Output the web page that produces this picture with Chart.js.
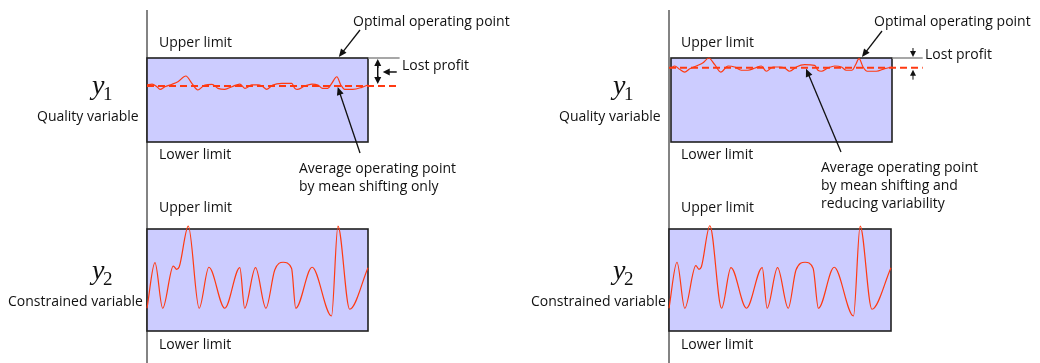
<!DOCTYPE html>
<html>
<head>
<meta charset="UTF-8" />
<title>Mean shifting and variability reduction</title>
<script src="https://cdn.jsdelivr.net/npm/chart.js"></script>
<style>
  body { margin: 0; padding: 0; background: #fff; }
  #wrap { position: relative; width: 1040px; height: 363px; }
  canvas { position: absolute; top: 0; }
</style>
</head>
<body>
<div id="wrap">
  <canvas id="leftTop" width="520" height="363" style="left:0"></canvas>
  <canvas id="leftBottom" width="520" height="363" style="left:0"></canvas>
  <canvas id="rightTop" width="520" height="363" style="left:520px"></canvas>
  <canvas id="rightBottom" width="520" height="363" style="left:520px"></canvas>
</div>
<script>
// both variables in percent of the band between the limits
const lowerLimit = 0;
const upperLimit = 100;

// y1 quality variable, mean shifting only
const qualityTimeA = [0, 2.3, 4.5, 5.9, 8.1, 11.3, 14.0, 17.6, 20.3, 23.0, 26.2, 29.4, 32.1, 35.2, 38.4, 42.0, 44.3, 47.4, 50.2, 52.0, 54.2, 56.9, 61.0, 65.5, 66.9, 68.2, 71.4, 74.6, 77.3, 79.5, 81.8, 83.6, 85.9, 87.7, 89.5, 93.1, 97.2, 100];
const qualityShiftOnly = [67.9, 69.0, 65.8, 62.7, 65.8, 68.7, 71.8, 78.6, 69.9, 61.9, 67.9, 68.7, 63.9, 62.7, 65.8, 69.0, 63.9, 67.9, 67.9, 66.7, 62.7, 67.9, 69.9, 69.9, 63.9, 62.7, 66.7, 69.0, 67.9, 63.9, 63.9, 69.9, 77.7, 67.9, 62.7, 62.7, 65.1, 67.9];
const meanShiftOnly = 66.7;

// y1 quality variable, mean shifting and reduced variability
const qualityTimeB = [0, 1.7, 3.9, 6.2, 8.5, 11.4, 14.5, 17.1, 19.8, 22.5, 25.8, 28.8, 31.8, 34.8, 38.1, 40.9, 43.1, 46.2, 49.2, 51.4, 53.7, 56.7, 60.5, 65.0, 66.5, 68.0, 71.0, 74.1, 77.1, 79.3, 81.9, 83.4, 85.1, 86.9, 88.8, 92.9, 96.7, 100];
const qualityReduced = [88.1, 90.5, 86.5, 83.3, 87.3, 90.5, 94.4, 100, 92.0, 83.3, 90.5, 89.3, 85.4, 85.4, 88.1, 90.5, 84.2, 89.3, 89.3, 88.1, 84.2, 89.3, 92.0, 91.3, 85.4, 84.2, 88.1, 90.5, 89.3, 85.4, 85.4, 91.3, 99.2, 89.3, 84.2, 84.2, 87.3, 89.3];
const meanReduced = 88.5;

// y2 constrained variable
const constrainedTimeA = [0, 3.6, 7.1, 11.9, 13.4, 14.6, 18.7, 23.6, 28.0, 35.2, 42.0, 44.2, 49.1, 53.8, 57.8, 61.6, 65.4, 67.3, 74.7, 83.5, 86.4, 91.7, 100];
const constrainedA = [22.3, 67.0, 22.3, 63.7, 60.5, 63.0, 102.9, 22.3, 62.5, 22.3, 62.1, 22.3, 62.1, 22.3, 59.8, 67.4, 61.5, 22.3, 62.5, 14.7, 102.9, 21.3, 62.1];
const constrainedTimeB = [0, 3.6, 7.1, 12.1, 13.5, 14.6, 18.4, 23.7, 27.9, 34.9, 42.0, 44.2, 48.9, 53.7, 57.2, 61.3, 64.9, 67.3, 74.4, 83.1, 86.1, 91.4, 100];
const constrainedB = [22.3, 67.4, 22.3, 64.0, 60.5, 63.0, 103.2, 22.3, 62.1, 22.3, 62.1, 22.3, 62.1, 22.3, 59.8, 67.4, 61.5, 22.3, 62.5, 14.7, 102.9, 21.3, 62.1];

// texts
const limitLabels = ['Upper limit', 'Lower limit'];
const variableNames = ['Quality variable', 'Constrained variable'];
const optimalLabel = 'Optimal operating point';
const lostLabel = 'Lost profit';
const averageLabelsA = ['Average operating point', 'by mean shifting only'];
const averageLabelsB = ['Average operating point', 'by mean shifting and', 'reducing variability'];

const FONT = '14px "Open Sans", "Liberation Sans", sans-serif';
const RED = '#ff3a12';

function pts(xs, ys) {
  return xs.map((x, i) => ({ x: x, y: ys[i] }));
}

function arrow(ctx, x1, y1, x2, y2, head, half) {
  const a = Math.atan2(y2 - y1, x2 - x1);
  const c = Math.cos(a), s = Math.sin(a);
  ctx.beginPath();
  ctx.moveTo(x1, y1);
  ctx.lineTo(x2 - c * head * 0.7, y2 - s * head * 0.7);
  ctx.stroke();
  ctx.beginPath();
  ctx.moveTo(x2, y2);
  ctx.lineTo(x2 - head * c + half * s, y2 - head * s - half * c);
  ctx.lineTo(x2 - head * c - half * s, y2 - head * s + half * c);
  ctx.closePath();
  ctx.fill();
}

function symbol(ctx, x, base, sub, subBase) {
  ctx.font = 'italic 28px "Liberation Serif", "DejaVu Serif", serif';
  ctx.fillText('y', x, base);
  ctx.font = '19px "Liberation Serif", "DejaVu Serif", serif';
  ctx.fillText(sub, x + 11, subBase);
}

const sketch = {
  id: 'sketch',
  beforeDatasetsDraw(chart, args, o) {
    const { ctx, chartArea: a } = chart;
    ctx.save();
    if (o.axisX !== undefined) {
      ctx.strokeStyle = '#5a5a5a';
      ctx.lineWidth = 1.5;
      ctx.beginPath();
      ctx.moveTo(o.axisX, 10);
      ctx.lineTo(o.axisX, 363);
      ctx.stroke();
    }
    ctx.fillStyle = '#ccccff';
    ctx.fillRect(a.left, a.top, a.right - a.left, a.bottom - a.top);
    ctx.strokeStyle = '#202020';
    ctx.lineWidth = 1.6;
    ctx.strokeRect(a.left, a.top, a.right - a.left, a.bottom - a.top);
    if (o.extendTo !== undefined) {
      const xs = chart.scales.x, ys = chart.scales.y;
      ctx.strokeStyle = '#8a8a8a';
      ctx.lineWidth = 1.5;
      ctx.beginPath();
      ctx.moveTo(a.right, ys.getPixelForValue(upperLimit));
      ctx.lineTo(xs.getPixelForValue(o.extendTo), ys.getPixelForValue(upperLimit));
      ctx.stroke();
    }
    ctx.restore();
  },
  afterDraw(chart, args, o) {
    const { ctx } = chart;
    const xs = chart.scales.x, ys = chart.scales.y;
    ctx.save();
    ctx.fillStyle = '#111';
    ctx.strokeStyle = '#111';
    ctx.textBaseline = 'alphabetic';
    ctx.font = FONT;
    ctx.fillText(limitLabels[0], o.limitX, o.upperY);
    ctx.fillText(limitLabels[1], o.limitX, o.lowerY);
    ctx.fillText(o.name, o.nameX, o.nameY);
    symbol(ctx, o.symX, o.symY, o.sub, o.symY + 6);

    if (o.mean !== undefined) {
      ctx.font = FONT;
      // optimal operating point
      ctx.fillText(optimalLabel, o.optimalText[0], o.optimalText[1]);
      ctx.lineWidth = 1.3;
      arrow(ctx, o.optimalTail[0], o.optimalTail[1],
        xs.getPixelForValue(o.optimalAt), ys.getPixelForValue(upperLimit) - 1, 8, 3.5);

      // average operating point
      o.averageLines.forEach((t, i) => ctx.fillText(t, o.averageText[0], o.averageText[1] + i * 18));
      arrow(ctx, o.averageTail[0], o.averageTail[1],
        xs.getPixelForValue(o.averageAt), ys.getPixelForValue(o.mean) + 1, 8, 3.5);

      // lost profit
      ctx.fillText(lostLabel, o.lostText[0], o.lostText[1]);
      const lx = xs.getPixelForValue(o.lostAt);
      const top = ys.getPixelForValue(upperLimit);
      const bot = ys.getPixelForValue(o.mean);
      ctx.lineWidth = 1.5;
      if (o.lostStyle === 'double') {
        ctx.beginPath();
        ctx.moveTo(lx, top + 5);
        ctx.lineTo(lx, bot - 5);
        ctx.stroke();
        arrow(ctx, lx, top + 10, lx, top + 1, 7, 3.5);
        arrow(ctx, lx, bot - 10, lx, bot - 2, 7, 3.5);
        arrow(ctx, lx + 19, (top + bot) / 2, lx + 5, (top + bot) / 2, 7, 3.5);
      } else {
        ctx.lineWidth = 1;
        arrow(ctx, lx, top - 10, lx, top - 1, 6, 3);
        arrow(ctx, lx, bot + 12, lx, bot + 2, 6, 3);
      }
    }
    ctx.restore();
  }
};

function makeChart(id, pad, series, mean, meanStart, meanEnd, opts) {
  const datasets = [{
    data: series,
    borderColor: RED,
    borderWidth: 1.2,
    cubicInterpolationMode: 'monotone',
    clip: false
  }];
  if (mean !== undefined) {
    datasets.push({
      data: [{ x: meanStart, y: mean }, { x: meanEnd, y: mean }],
      borderColor: RED,
      borderWidth: 2,
      borderDash: [7, 4],
      clip: false
    });
  }
  return new Chart(document.getElementById(id), {
    type: 'line',
    data: { datasets: datasets },
    options: {
      responsive: false,
      animation: false,
      events: [],
      layout: { padding: pad },
      elements: { point: { radius: 0 }, line: { capBezierPoints: false } },
      scales: {
        x: { type: 'linear', min: 0, max: 100, display: false },
        y: { min: lowerLimit, max: upperLimit, display: false }
      },
      plugins: { legend: { display: false }, tooltip: { enabled: false }, sketch: opts }
    },
    plugins: [sketch]
  });
}

// left panel: mean shifting only
makeChart('leftTop', { left: 147, right: 152, top: 58, bottom: 221 },
  pts(qualityTimeA, qualityShiftOnly), meanShiftOnly, 0, 114.3, {
    axisX: 147, extendTo: 114.3, mean: meanShiftOnly,
    limitX: 159, upperY: 47, lowerY: 159,
    name: variableNames[0], nameX: 37, nameY: 121, symX: 92, symY: 94, sub: '1',
    optimalText: [353, 26], optimalTail: [360, 30], optimalAt: 86.8,
    averageLines: averageLabelsA, averageText: [299, 173], averageTail: [360, 153], averageAt: 86.3,
    lostText: [402, 70], lostAt: 104.4, lostStyle: 'double'
  });
makeChart('leftBottom', { left: 147, right: 152, top: 229, bottom: 32 },
  pts(constrainedTimeA, constrainedA), undefined, 0, 0, {
    limitX: 159, upperY: 212, lowerY: 349,
    name: variableNames[1], nameX: 8, nameY: 306, symX: 92, symY: 279, sub: '2'
  });

// right panel: mean shifting and reduced variability
makeChart('rightTop', { left: 151, right: 148, top: 58, bottom: 221 },
  pts(qualityTimeB, qualityReduced), meanReduced, -0.9, 113.9, {
    axisX: 149, extendTo: 113.9, mean: meanReduced,
    limitX: 161, upperY: 47, lowerY: 159,
    name: variableNames[0], nameX: 39, nameY: 121, symX: 93, symY: 94, sub: '1',
    optimalText: [354, 26], optimalTail: [362, 31], optimalAt: 86.4,
    averageLines: averageLabelsB, averageText: [301, 172], averageTail: [321, 152], averageAt: 61.1,
    lostText: [405, 59], lostAt: 109.5, lostStyle: 'split'
  });
makeChart('rightBottom', { left: 149, right: 149, top: 229, bottom: 32 },
  pts(constrainedTimeB, constrainedB), undefined, 0, 0, {
    limitX: 161, upperY: 212, lowerY: 349,
    name: variableNames[1], nameX: 11, nameY: 306, symX: 93, symY: 279, sub: '2'
  });
</script>
</body>
</html>
